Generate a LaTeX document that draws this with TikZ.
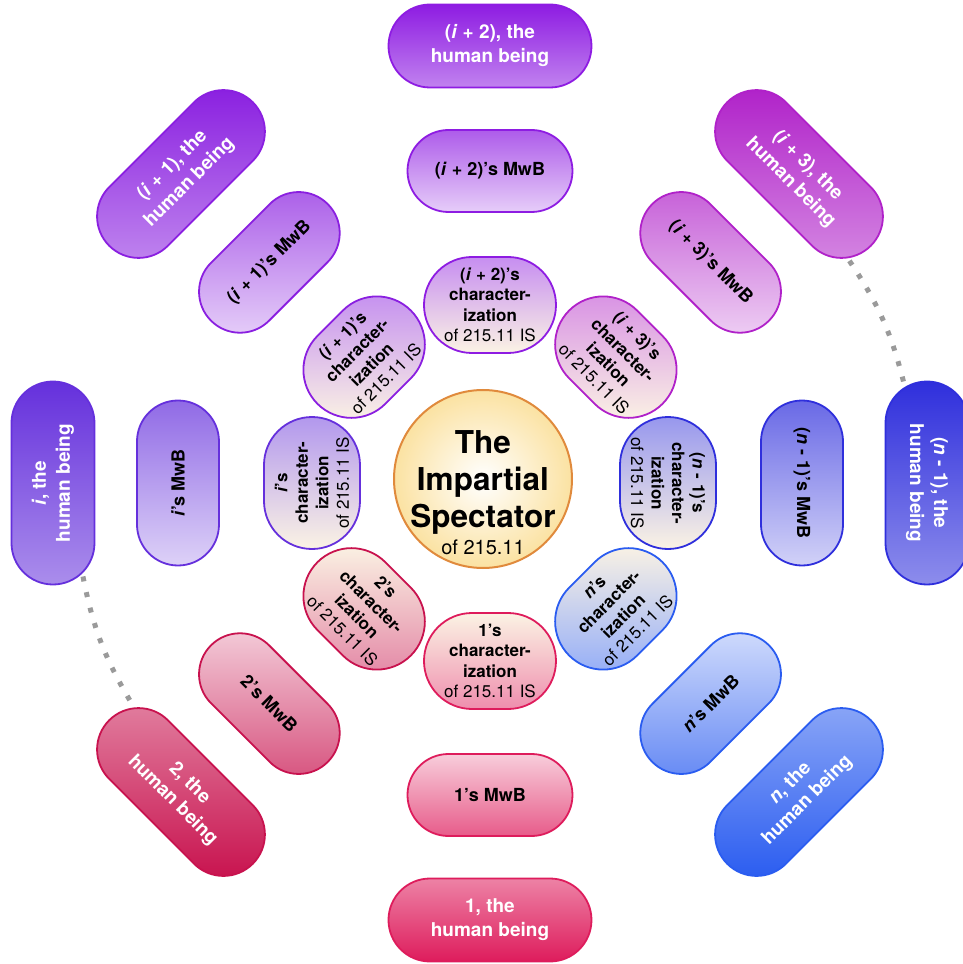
\documentclass[tikz,border=0pt]{standalone}
\usepackage{fontspec}
\setmainfont{TeX Gyre Heros}
\usetikzlibrary{shapes.misc}
\definecolor{colA}{HTML}{8A1FE0}
\definecolor{colB}{HTML}{8E1CE2}
\definecolor{colC}{HTML}{B021C9}
\definecolor{colI}{HTML}{6530DC}
\definecolor{colT}{HTML}{C8124E}
\definecolor{colO}{HTML}{DE1C5C}
\definecolor{colN}{HTML}{2A5CF0}
\definecolor{colM}{HTML}{2F2FDC}
\definecolor{cream}{HTML}{FBF3E4}
\definecolor{dotgray}{HTML}{9A9A9A}
\definecolor{spectorange}{HTML}{E08A3C}
\definecolor{spectyellow}{HTML}{FBE2A2}
\tikzset{
  pill/.style={rounded rectangle, draw, line width=1.8pt, align=center, inner sep=0pt},
  humanbox/.style={pill, minimum width=203pt, minimum height=83pt, text=white,
    font=\bfseries\fontsize{19}{24}\selectfont},
  mwbbox/.style={pill, minimum width=165pt, minimum height=82pt,
    font=\bfseries\fontsize{18}{22}\selectfont},
  charbox/.style={pill, minimum width=132pt, minimum height=96pt,
    font=\bfseries\fontsize{17}{20.5}\selectfont},
  gapdots/.style={draw=dotgray, line width=5pt, dash pattern=on 5pt off 11pt}
}
\begin{document}
\begin{tikzpicture}[x=1pt,y=1pt]
\useasboundingbox (-490,-481) rectangle (473,483);
\node[circle, draw=spectorange, line width=2pt, minimum size=178pt, inner sep=0pt,
  inner color=white, outer color=spectyellow,
  label={[align=center, yshift=-14pt, font=\bfseries\fontsize{31.5}{37}\selectfont]center:{The\\Impartial\\Spectator\\[-10pt]\mdseries\fontsize{20}{24}\selectfont of 215.11}}]
  (spectator) at (-7,4) {};
\foreach \a/\id/\c/\lab in {90/ipb/colB/{(\textit{i} + 2)}, 135/ipa/colA/{(\textit{i} + 1)},
    180/i/colI/{\textit{i}}, 225/two/colT/{2}, 270/one/colO/{1}, 315/n/colN/{\textit{n}},
    0/nm/colM/{(\textit{n} - 1)}, 45/ipc/colC/{(\textit{i} + 3)}}{
  \pgfmathsetmacro{\rot}{\a<181 ? \a-90 : \a+90}
  \pgfmathsetmacro{\sh}{\a<181 ? 0 : 180}
  \node[humanbox, rotate=\rot, draw=\c, top color=\c, bottom color=\c!55!white,
    shading angle=\sh] (hb\id) at (\a:437) {\lab, the\\human being};
  \node[mwbbox, rotate=\rot, draw=\c, top color=\c!72!white, bottom color=\c!22!white,
    shading angle=\sh] (mwb\id) at (\a:312) {\lab’s MwB};
  \node[charbox, rotate=\rot, draw=\c, top color=\c!50!white, bottom color=cream,
    shading angle=\sh] (ch\id) at (\a:178) {\lab’s\\character-\\ization\\\mdseries of 215.11 IS};
}
\draw[gapdots, shorten <=3pt, shorten >=3pt] (hbi.198) to[bend right=10] (hbtwo.164);
\draw[gapdots, shorten <=3pt, shorten >=3pt] (hbipc.345) to[bend left=10] (hbnm.193);
\end{tikzpicture}
\end{document}
